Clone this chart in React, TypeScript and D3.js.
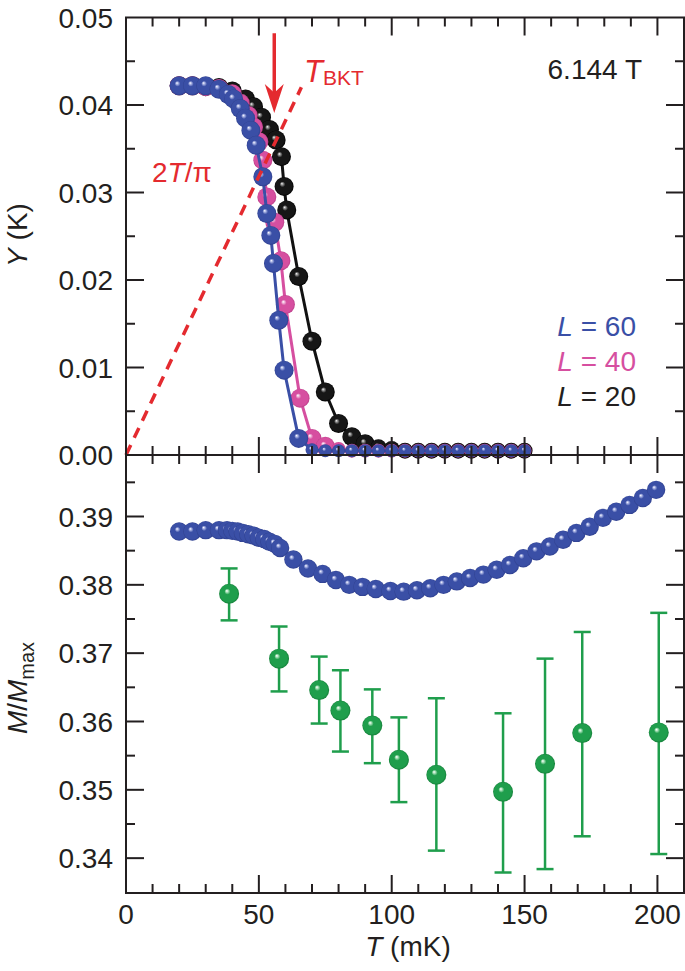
import React from "react";
import * as d3 from "d3";

// ---------- Top panel: helicity modulus Y (K) vs T (mK) ----------
const topBlueT = [20, 25, 30, 35, 38.5, 40.5, 43, 45, 47, 49, 51.5, 53, 54.5, 55.5, 57.5, 59.5, 65, 70, 75, 80, 85, 90, 95, 100, 105, 110, 115, 120, 125, 130, 135, 140, 145, 150];
const topBlueY = [0.0422, 0.0422, 0.0422, 0.0418, 0.0412, 0.0407, 0.0396, 0.0385, 0.0371, 0.0354, 0.0318, 0.0276, 0.0251, 0.0219, 0.0154, 0.0097, 0.0019, 0.0006, 0.0005, 0.0005, 0.0005, 0.0005, 0.0005, 0.0005, 0.0005, 0.0005, 0.0005, 0.0005, 0.0005, 0.0005, 0.0005, 0.0005, 0.0005, 0.0005];

const topMagT = [20, 25, 30, 35, 40, 43, 46, 48, 50, 51.5, 53, 56, 58.3, 60, 65.5, 70, 75, 80, 85, 90, 95, 100, 105, 110, 115, 120, 125, 130, 135, 140, 145, 150];
const topMagY = [0.0422, 0.0422, 0.0421, 0.0419, 0.0413, 0.0402, 0.0388, 0.0375, 0.0358, 0.0337, 0.0295, 0.0266, 0.0222, 0.0172, 0.0065, 0.0019, 0.001, 0.0007, 0.0005, 0.0005, 0.0005, 0.0005, 0.0005, 0.0005, 0.0005, 0.0005, 0.0005, 0.0005, 0.0005, 0.0005, 0.0005, 0.0005];

const topBlackT = [20, 25, 30, 35, 40, 45, 48, 51, 54, 56.5, 58.5, 59.5, 60.5, 65, 70, 75, 80, 85, 90, 95, 100, 105, 110, 115, 120, 125, 130, 135, 140, 145, 150];
const topBlackY = [0.0422, 0.0422, 0.0421, 0.042, 0.0416, 0.0407, 0.0398, 0.0386, 0.0372, 0.036, 0.0341, 0.0307, 0.028, 0.0204, 0.013, 0.0072, 0.0036, 0.0021, 0.0013, 0.0009, 0.0007, 0.0005, 0.0005, 0.0005, 0.0005, 0.0005, 0.0005, 0.0005, 0.0005, 0.0005, 0.0005];

// 2T/pi line end (mK) and T_BKT arrow position (mK)
const lineEndT = 66;
const tBKT = 55.8;

// ---------- Bottom panel: M/Mmax vs T ----------
const botBlueT = [20, 25, 30, 35, 38, 40, 42, 44, 46, 48, 50, 52, 54, 56, 58, 63, 68.5, 74, 79, 84, 89, 94, 99.5, 104.5, 109.5, 114.5, 119.5, 124.5, 129.5, 134.5, 139.5, 144.5, 149.5, 154.5, 159.5, 164.5, 169.5, 174.5, 179.5, 184.5, 189.5, 194.5, 199.5];
const botBlueM = [0.3878, 0.3878, 0.388, 0.388, 0.388, 0.3879, 0.3878, 0.3876, 0.3874, 0.3872, 0.3869, 0.3867, 0.3863, 0.386, 0.3854, 0.3837, 0.3824, 0.3816, 0.3807, 0.38, 0.3797, 0.3794, 0.3791, 0.379, 0.3792, 0.3795, 0.38, 0.3805, 0.381, 0.3815, 0.3822, 0.3829, 0.3839, 0.3849, 0.3856, 0.3866, 0.3876, 0.3885, 0.3898, 0.3907, 0.3917, 0.3927, 0.3939];

const greenT = [38.8, 57.6, 72.7, 80.7, 92.7, 102.7, 116.8, 141.9, 157.7, 171.7, 200.5];
const greenM = [0.3787, 0.3692, 0.3646, 0.3616, 0.3594, 0.3544, 0.3522, 0.3497, 0.3538, 0.3583, 0.3584];
const greenHi = [0.3824, 0.3739, 0.3695, 0.3675, 0.3647, 0.3606, 0.3634, 0.3612, 0.3692, 0.3731, 0.3759];
const greenLo = [0.3748, 0.3644, 0.3597, 0.3556, 0.3539, 0.3482, 0.3411, 0.3379, 0.3384, 0.3432, 0.3406];

const xTickLabels = ["0", "50", "100", "150", "200"];
const legendLabels = ["60", "40", "20"];

const FONT = "'Liberation Sans', Arial, Helvetica, sans-serif";
const INK = "#231f20";
const RED = "#e42a2f";
const BLUE = "#3a4fa6";
const MAG = "#d64fa0";
const GREEN = "#1f9e4c";

export default function App() {
  const W = 685, H = 971;
  const x0 = 126, x1 = 684, yT0 = 17.5, yMid = 455, yB1 = 893;
  const x = d3.scaleLinear().domain([0, 210]).range([x0, x1]);
  const yTop = d3.scaleLinear().domain([0, 0.05]).range([yMid, yT0]);
  const yBot = d3.scaleLinear().domain([0.3349, 0.399]).range([yB1, yMid]);

  const lineTop = d3.line<[number, number]>().x(d => x(d[0])).y(d => yTop(d[1]));
  const zip = (a: number[], b: number[]) => a.map((v, i) => [v, b[i]] as [number, number]);

  const xTicks = d3.range(0, 211, 10);
  const yTopTicks = d3.range(0, 11).map(i => i * 0.005);
  const yBotTicks = d3.range(0, 13).map(i => 0.335 + i * 0.005);

  const MAJ = 18, MIN = 9;

  const tickEls: JSX.Element[] = [];
  xTicks.forEach((t, i) => {
    const px = x(t);
    const L = Math.round(t) % 50 === 0 ? MAJ : MIN;
    if (px <= x0 + 1 || px >= x1 - 1) return;
    tickEls.push(<line key={"xt" + i} x1={px} x2={px} y1={yT0} y2={yT0 + L} />);
    tickEls.push(<line key={"xm" + i} x1={px} x2={px} y1={yMid} y2={yMid - L} />);
    tickEls.push(<line key={"xn" + i} x1={px} x2={px} y1={yMid} y2={yMid + L} />);
    tickEls.push(<line key={"xb" + i} x1={px} x2={px} y1={yB1} y2={yB1 - L} />);
  });
  yTopTicks.forEach((v, i) => {
    const py = yTop(v);
    if (py <= yT0 + 1 || py >= yMid - 1) return;
    const L = i % 2 === 0 ? MAJ : MIN;
    tickEls.push(<line key={"yl" + i} x1={x0} x2={x0 + L} y1={py} y2={py} />);
    tickEls.push(<line key={"yr" + i} x1={x1} x2={x1 - L} y1={py} y2={py} />);
  });
  yBotTicks.forEach((v, i) => {
    const py = yBot(v);
    if (py <= yMid + 1 || py >= yB1 - 1) return;
    const L = i % 2 === 1 ? MAJ : MIN;
    tickEls.push(<line key={"bl" + i} x1={x0} x2={x0 + L} y1={py} y2={py} />);
    tickEls.push(<line key={"br" + i} x1={x1} x2={x1 - L} y1={py} y2={py} />);
  });

  const grad = (id: string, hi: string, base: string, dark: string) => (
    <radialGradient id={id} cx="50%" cy="50%" r="50%" fx="38%" fy="35%">
      <stop offset="0%" stopColor="#ffffff" />
      <stop offset="10%" stopColor={hi} />
      <stop offset="30%" stopColor={base} />
      <stop offset="85%" stopColor={base} />
      <stop offset="100%" stopColor={dark} />
    </radialGradient>
  );

  const spheres = (T: number[], V: number[], ys: (v: number) => number, fill: string, rFn: (v: number) => number, key: string) =>
    T.map((t, i) => <circle key={key + i} cx={x(t)} cy={ys(V[i])} r={rFn(V[i])} fill={fill} />);

  const lineEndY = (2 * lineEndT / 1000) / Math.PI;

  return (
    <div style={{ position: "absolute", left: 0, top: 0 }}>
      <svg width={W} height={H} viewBox={`0 0 ${W} ${H}`} style={{ display: "block", background: "#fff" }} fontFamily={FONT}>
        <defs>
          {grad("gBlue", "#b8c0ea", BLUE, "#2f408f")}
          {grad("gMag", "#f3c6e2", MAG, "#bd3f8a")}
          {grad("gBlack", "#a0a0a0", "#161616", "#000000")}
          {grad("gGreen", "#bfeacb", GREEN, "#16803a")}
        </defs>

        {/* top panel series */}
        <path d={lineTop(zip(topBlackT, topBlackY)) || ""} fill="none" stroke="#111" strokeWidth={3} />
        {spheres(topBlackT, topBlackY, yTop, "url(#gBlack)", v => (v < 0.001 ? 8 : 9.5), "bk")}
        <path d={lineTop(zip(topMagT, topMagY)) || ""} fill="none" stroke={MAG} strokeWidth={3} />
        {spheres(topMagT, topMagY, yTop, "url(#gMag)", v => (v < 0.001 ? 7 : 9.5), "mg")}
        <path d={lineTop(zip(topBlueT, topBlueY)) || ""} fill="none" stroke={BLUE} strokeWidth={3} />
        {spheres(topBlueT, topBlueY, yTop, "url(#gBlue)", v => (v < 0.001 ? 6.5 : 9.5), "bl")}

        {/* 2T/pi dashed line */}
        <line x1={x(0)} y1={yTop(0)} x2={x(lineEndT)} y2={yTop(lineEndY)} stroke={RED} strokeWidth={3.5} strokeDasharray="11 8" />
        {/* T_BKT arrow */}
        <line x1={x(tBKT)} x2={x(tBKT)} y1={yTop(0.0482)} y2={yTop(0.0412)} stroke={RED} strokeWidth={3.5} />
        <path d={`M${x(tBKT)},${yTop(0.0391)} L${x(tBKT) - 9.5},${yTop(0.0424)} L${x(tBKT)},${yTop(0.0414)} L${x(tBKT) + 9.5},${yTop(0.0424)} Z`} fill={RED} />

        {/* bottom panel */}
        {spheres(botBlueT, botBlueM, yBot, "url(#gBlue)", () => 9.2, "bb")}
        <g stroke={GREEN} strokeWidth={2.5} fill="none">
          {greenT.map((t, i) => (
            <g key={"ge" + i}>
              <line x1={x(t)} x2={x(t)} y1={yBot(greenHi[i])} y2={yBot(greenLo[i])} />
              <line x1={x(t) - 8.5} x2={x(t) + 8.5} y1={yBot(greenHi[i])} y2={yBot(greenHi[i])} />
              <line x1={x(t) - 8.5} x2={x(t) + 8.5} y1={yBot(greenLo[i])} y2={yBot(greenLo[i])} />
            </g>
          ))}
        </g>
        {spheres(greenT, greenM, yBot, "url(#gGreen)", () => 10, "gr")}

        {/* frames and ticks */}
        <g stroke={INK} strokeWidth={2} fill="none">
          <rect x={x0} y={yT0} width={x1 - x0} height={yB1 - yT0} />
          <line x1={x0} x2={x1} y1={yMid} y2={yMid} />
          {tickEls}
        </g>

        {/* tick labels */}
        <g fill={INK} fontSize={28}>
          {yTopTicks.filter((_, i) => i % 2 === 0).map((v, i) => (
            <text key={"ytl" + i} x={113} y={yTop(v)} dy="0.36em" textAnchor="end">{d3.format(".2f")(v)}</text>
          ))}
          {yBotTicks.filter((_, i) => i % 2 === 1).map((v, i) => (
            <text key={"ybl" + i} x={113} y={yBot(v)} dy="0.36em" textAnchor="end">{d3.format(".2f")(v)}</text>
          ))}
          {xTickLabels.map((s, i) => (
            <text key={"xtl" + i} x={x(+s)} y={924} textAnchor="middle">{s}</text>
          ))}
        </g>

        {/* axis titles */}
        <text transform="translate(27,235) rotate(-90)" textAnchor="middle" fontSize={28} fill={INK}>
          <tspan fontStyle="italic">Y</tspan> (K)
        </text>
        <text transform="translate(27,688) rotate(-90)" textAnchor="middle" fontSize={28} fill={INK}>
          <tspan fontStyle="italic">M</tspan>/<tspan fontStyle="italic">M</tspan>
          <tspan fontSize={20} dy={7}>max</tspan>
        </text>
        <text x={408} y={956} textAnchor="middle" fontSize={28} fill={INK}>
          <tspan fontStyle="italic">T</tspan> (mK)
        </text>

        {/* annotations */}
        <text x={642} y={79} textAnchor="end" fontSize={28} fill={INK}>6.144 T</text>
        <text x={304} y={82} fontSize={31} fill={RED}>
          <tspan fontStyle="italic">T</tspan>
          <tspan fontSize={21} dy={3}>BKT</tspan>
        </text>
        <text x={152} y={182} fontSize={28} fill={RED}>
          2<tspan fontStyle="italic">T</tspan>/π
        </text>

        {/* legend */}
        {legendLabels.map((s, i) => (
          <text key={"lg" + i} x={636} y={336 + i * 35} textAnchor="end" fontSize={28} fill={[BLUE, MAG, INK][i]}>
            <tspan fontStyle="italic">L</tspan> = {s}
          </text>
        ))}
      </svg>
    </div>
  );
}
